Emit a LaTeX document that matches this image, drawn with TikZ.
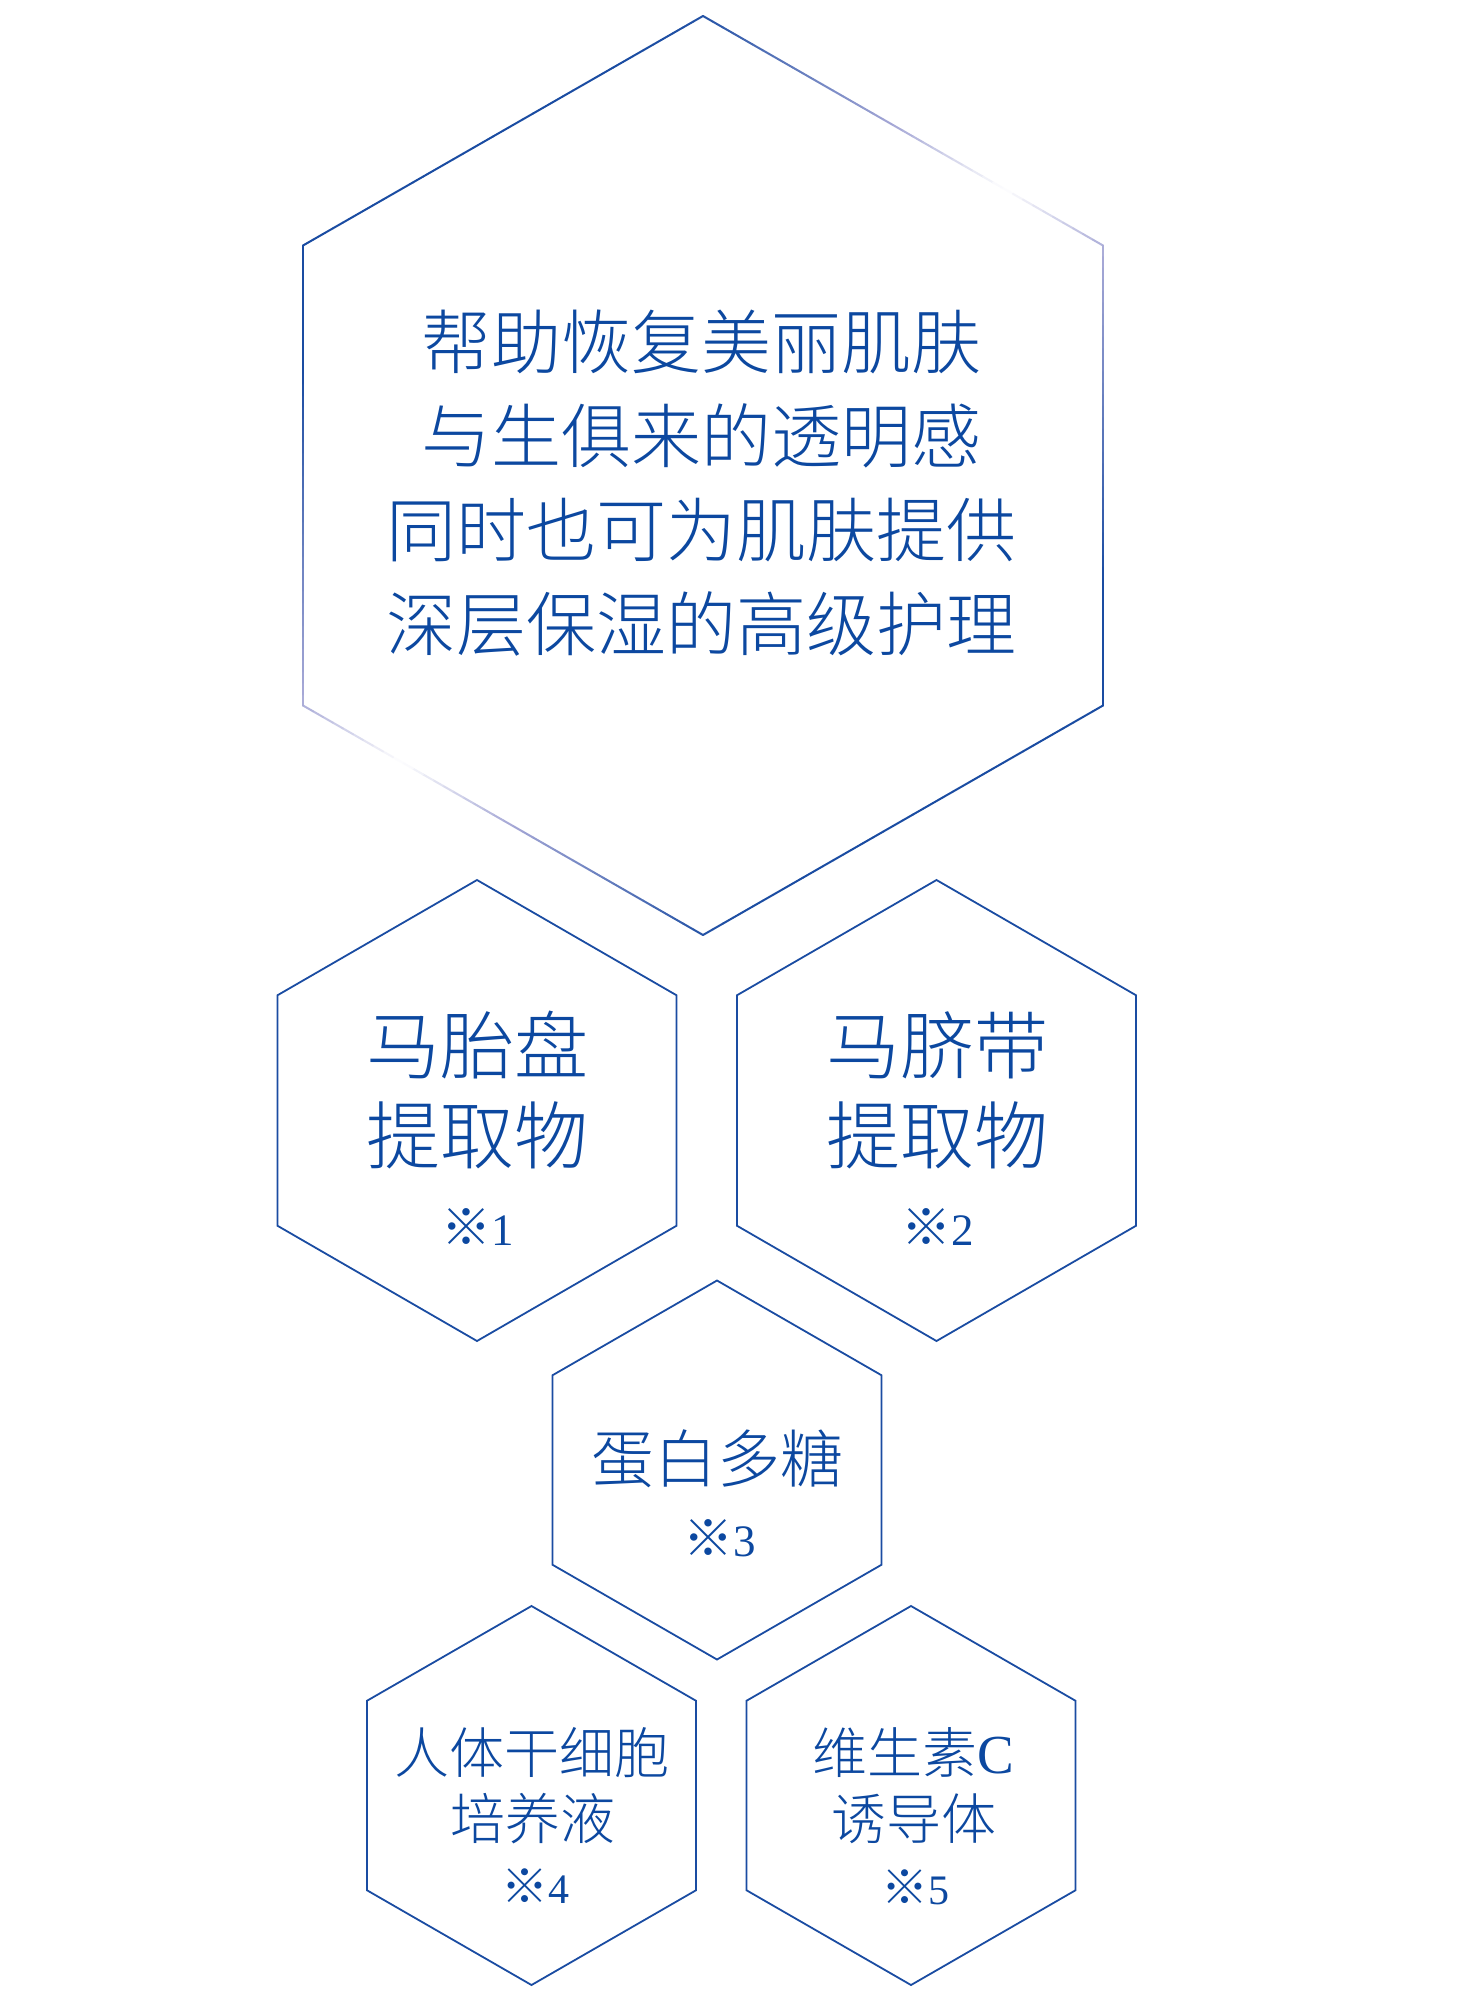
\documentclass[tikz,border=0pt]{standalone}
\usepackage{fontspec}
\setmainfont{Liberation Serif}
\newfontfamily\cjk{Noto Sans CJK SC}[UprightFont=* Light]
\definecolor{textblue}{RGB}{12,72,160}
\definecolor{lineblue}{RGB}{26,76,162}
\definecolor{lav}{RGB}{166,168,214}

% gradient stroke for one edge of the large hexagon
\newcommand\hexgradedge[4]{%
  \foreach \i in {0,...,39}{%
    \pgfmathsetmacro\ta{\i/40}%
    \pgfmathsetmacro\tb{(\i+1)/40}%
    \pgfmathsetmacro\xs{#1+\ta*(#3-#1)}%
    \pgfmathsetmacro\ys{#2+\ta*(#4-#2)}%
    \pgfmathsetmacro\xe{#1+\tb*(#3-#1)}%
    \pgfmathsetmacro\ye{#2+\tb*(#4-#2)}%
    \pgfmathsetmacro\pp{abs((0.5*\xs+0.5*\xe-703)*0.6888+(0.5*\ys+0.5*\ye-475.5)*0.725)}%
    \pgfmathsetmacro\pa{min(100,\pp/1.2)}%
    \pgfmathsetmacro\pb{max(0,min(100,(\pp-120)/2.3))}%
    \colorlet{lavw}{lav!\pa!white}%
    \draw[biggrad, draw=lineblue!\pb!lavw] (\xs,\ys) -- (\xe,\ye);
  }%
}
% hexagon with pointed top: centre x, centre y, half width, circumradius
\newcommand\hexagonat[4]{%
  \draw[hexline] (#1,#2-#4) -- (#1+#3,#2-#4/2) -- (#1+#3,#2+#4/2) --
    (#1,#2+#4) -- (#1-#3,#2+#4/2) -- (#1-#3,#2-#4/2) -- cycle;
}
\newcommand\kome{{\cjk\fontsize{50}{50}\selectfont ※}}
\newcommand\komesm{{\cjk\fontsize{47}{47}\selectfont ※}}

\begin{document}
\begin{tikzpicture}[x=1pt,y=-1pt,
  hexline/.style={draw=lineblue, line width=1.8pt, line join=miter},
  biggrad/.style={line width=2pt, line cap=round},
  bigtxt/.style={text=textblue, font=\cjk\fontsize{70}{70}\selectfont, anchor=base, inner sep=0pt},
  midtxt/.style={text=textblue, font=\cjk\fontsize{74}{74}\selectfont, anchor=base, inner sep=0pt},
  sugtxt/.style={text=textblue, font=\cjk\fontsize{63}{63}\selectfont, anchor=base, inner sep=0pt},
  smltxt/.style={text=textblue, font=\cjk\fontsize{55}{55}\selectfont, anchor=base, inner sep=0pt},
  notetxt/.style={text=textblue, font=\rmfamily\fontsize{45}{45}\selectfont, anchor=base, inner sep=0pt},
  smlnote/.style={text=textblue, font=\rmfamily\fontsize{42}{42}\selectfont, anchor=base, inner sep=0pt}]
\useasboundingbox (0,0) rectangle (1466,2000);
\fill[white] (0,0) rectangle (1466,2000);

% large hexagon with fading outline
\hexgradedge{703}{16}{1103}{245.5}
\hexgradedge{1103}{245.5}{1103}{705.5}
\hexgradedge{1103}{705.5}{703}{935}
\hexgradedge{703}{935}{303}{705.5}
\hexgradedge{303}{705.5}{303}{245.5}
\hexgradedge{303}{245.5}{703}{16}

\node[bigtxt] (b1) at (701,368) {帮助恢复美丽肌肤};
\node[bigtxt] (b2) at (701,462.5) {与生俱来的透明感};
\node[bigtxt] (b3) at (701,556.5) {同时也可为肌肤提供};
\node[bigtxt] (b4) at (701,650.5) {深层保湿的高级护理};

% small hexagons
\hexagonat{477}{1110.5}{199.5}{230.5}
\hexagonat{936.5}{1110.5}{199.5}{230.5}
\hexagonat{717}{1470}{164.5}{189.5}
\hexagonat{531.5}{1795.5}{164.5}{189.5}
\hexagonat{911}{1795.5}{164.5}{189.5}

\node[midtxt] (h1a) at (477.5,1073) {马胎盘};
\node[midtxt] (h1b) at (477.5,1163.5) {提取物};
\node[notetxt] (h1n) at (478,1245) {\kome 1};

\node[midtxt] (h2a) at (937.5,1073) {马脐带};
\node[midtxt] (h2b) at (937.5,1163.5) {提取物};
\node[notetxt] (h2n) at (938,1245) {\kome 2};

\node[sugtxt] (h3a) at (717,1482.5) {蛋白多糖};
\node[notetxt] (h3n) at (720,1556) {\kome 3};

\node[smltxt] (h4a) at (532,1773) {人体干细胞};
\node[smltxt] (h4b) at (532.5,1839) {培养液};
\node[smlnote] (h4n) at (535,1903) {\komesm 4};

\node[smltxt] (h5a) at (913,1773) {维生素{\rmfamily C}};
\node[smltxt] (h5b) at (913.5,1839) {诱导体};
\node[smlnote] (h5n) at (915,1904) {\komesm 5};
\end{tikzpicture}
\end{document}
